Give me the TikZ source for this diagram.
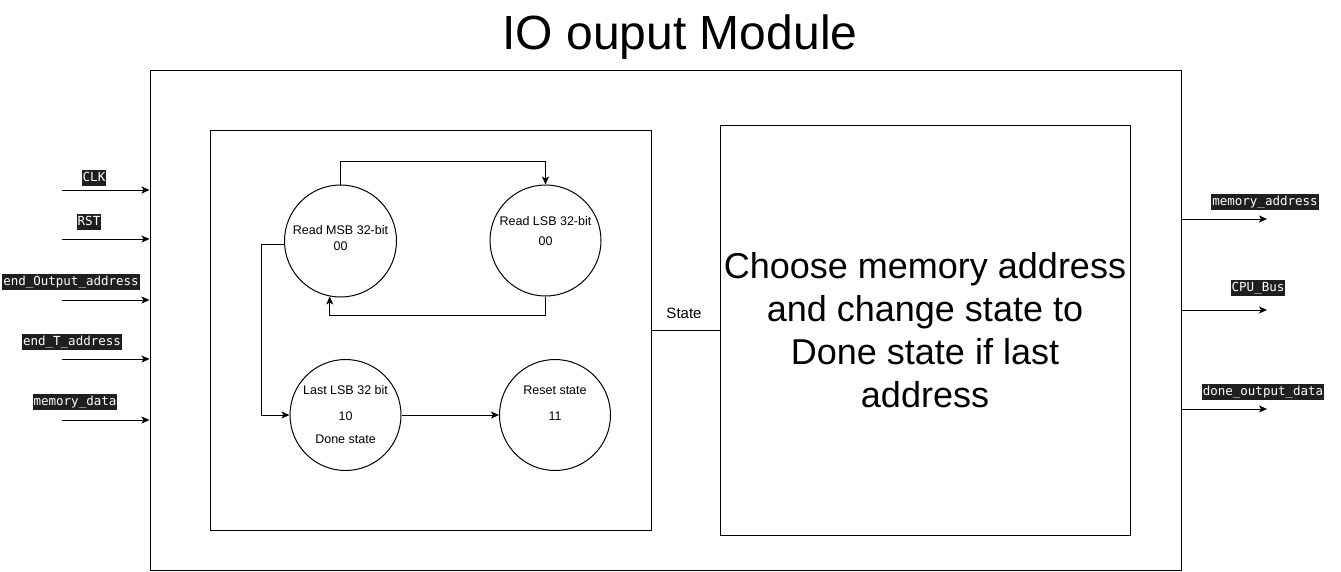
\documentclass[tikz,border=0pt]{standalone}
\usepackage{fontspec}
\setmainfont{Liberation Sans}
\newfontfamily\monof{DejaVu Sans Mono}
\usetikzlibrary{arrows.meta,calc}
\tikzset{
  box/.style={draw,line width=1pt,rectangle,inner sep=0pt},
  st/.style={draw,line width=1pt,circle,minimum size=111pt,inner sep=0pt},
  ctxt/.style={font=\fontsize{12.5}{14}\selectfont,text height=9pt,text depth=0pt,inner sep=0pt},
  sig/.style={fill=black!88,text=white,font=\monof\fontsize{12.5}{14}\selectfont,text height=9.5pt,text depth=2.5pt,inner xsep=1pt,inner ysep=2pt},
  arr/.style={line width=1pt,-{Stealth[length=8pt,width=7pt,inset=2pt]}},
  ln/.style={line width=1pt}
}
\begin{document}
\begin{tikzpicture}[x=1pt,y=-1pt]
\useasboundingbox (0,0) rectangle (1341,571);
\node[font=\fontsize{48}{56}\selectfont,text height=34pt,text depth=0pt,inner sep=0pt] (title) at (680,32) {IO ouput Module};
\node[box,minimum width=1031pt,minimum height=500pt] (outer) at (665.5,320) {};
\node[box,minimum width=441pt,minimum height=400pt] (left) at (430.5,330) {};
\node[box,minimum width=410pt,minimum height=410pt,align=center,font=\fontsize{36}{43}\selectfont] (right) at (925,330) {Choose memory address\\and change state to\\Done state if last\\address};
% states
\node[st,minimum size=112pt] (msb) at (340.5,241) {};
\node[st] (lsb) at (545.5,240.5) {};
\node[st] (last) at (345.5,415) {};
\node[st] (reset) at (555,415) {};
\node[ctxt] (msbt1) at ($(msb)+(0,-11)$) {Read MSB 32-bit};
\node[ctxt] (msbt2) at ($(msb)+(0,5)$) {00};
\node[ctxt] (lsbt1) at ($(lsb)+(0,-20)$) {Read LSB 32-bit};
\node[ctxt] (lsbt2) at ($(lsb)+(0,0.5)$) {00};
\node[ctxt] (lastt1) at ($(last)+(0,-25)$) {Last LSB 32 bit};
\node[ctxt] (lastt2) at ($(last)+(0,1)$) {10};
\node[ctxt] (lastt3) at ($(last)+(0,24)$) {Done state};
\node[ctxt] (rest1) at ($(reset)+(0,-25)$) {Reset state};
\node[ctxt] (rest2) at ($(reset)+(0,1)$) {11};
% state connectors
\coordinate (topy) at (0,161);
\coordinate (boty) at (0,315);
\coordinate (leftx) at (261,0);
\draw[arr] (msb.north) -- (msb.north |- topy) -| (lsb.north);
\draw[arr] (lsb.south) -- (lsb.south |- boty) -| (msb.259);
\draw[arr] (msb.184) -- (msb.184 -| leftx) |- (last.west);
\draw[arr] (last.east) -- (reset.west);
% state bus
\draw[ln] (left.east) -- (right.west);
\node[font=\fontsize{15}{18}\selectfont,text height=11pt,text depth=0pt,inner sep=0pt] (statel) at (684,313) {State};
% inputs
\node[sig] (clk) at (94,178) {CLK};
\node[sig] (rst) at (89,222) {RST};
\node[sig] (eoa) at (71,282) {end\_Output\_address};
\node[sig] (eta) at (72,342) {end\_T\_address};
\node[sig] (md) at (75,402) {memory\_data};
\coordinate (i1) at (62,190);
\coordinate (i2) at (62,239);
\coordinate (i3) at (62,300);
\coordinate (i4) at (62,359);
\coordinate (i5) at (62,420);
\foreach \c in {i1,i2,i3,i4,i5} \draw[arr] (\c) -- (\c -| outer.west);
% outputs
\node[sig] (ma) at (1265,202) {memory\_address};
\node[sig] (cpu) at (1258,288) {CPU\_Bus};
\node[sig] (dod) at (1263,392) {done\_output\_data};
\coordinate (o1) at (1267,219);
\coordinate (o2) at (1267,310);
\coordinate (o3) at (1267,409);
\foreach \c in {o1,o2,o3} \draw[arr] (\c -| outer.east) -- (\c);
\end{tikzpicture}
\end{document}
